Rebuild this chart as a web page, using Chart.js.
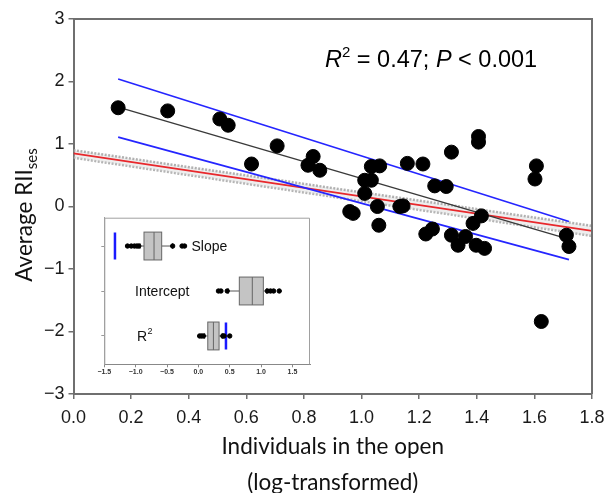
<!DOCTYPE html>
<html><head><meta charset="utf-8">
<script src="https://cdn.jsdelivr.net/npm/chart.js@4/dist/chart.umd.min.js"></script>
<style>
html,body{margin:0;padding:0;background:#fff;}
#wrap{position:relative;width:606px;height:493px;overflow:hidden;}
#main{position:absolute;left:0;top:0;}
#inset{position:absolute;left:90px;top:205px;}
</style></head><body>
<div id="wrap">
<canvas id="main" width="606" height="493"></canvas>
<canvas id="inset" width="235" height="180"></canvas>
</div>
<script>
// ---------- main scatter data ----------
const pointsX = [0.155,0.327,0.508,0.537,0.707,0.618,0.832,0.814,0.855,1.034,1.063,1.011,1.034,1.011,0.959,0.971,1.055,1.060,1.133,1.144,1.159,1.213,1.254,1.294,1.312,1.406,1.406,1.223,1.246,1.312,1.335,1.361,1.398,1.427,1.387,1.416,1.607,1.602,1.711,1.720,1.624];
const pointsY = [1.58,1.53,1.40,1.30,0.97,0.68,0.80,0.66,0.58,0.64,0.65,0.42,0.42,0.21,-0.08,-0.11,0.00,-0.30,0.00,0.01,0.69,0.68,0.33,0.32,0.87,1.12,1.03,-0.44,-0.36,-0.46,-0.62,-0.48,-0.62,-0.67,-0.27,-0.15,0.65,0.44,-0.46,-0.64,-1.84];

// regression line and its confidence band (blue)
const fitX = [0.155, 1.71];
const fitY = [1.59, -0.51];
const ciX = [0.155, 1.72];
const ciUpperY = [2.04, -0.24];
const ciLowerY = [1.11, -0.85];

// null-model line (red) with grey band
const nullX = [0, 1.8];
const nullY = [0.85, -0.39];
const nullUpperY = [0.90, -0.31];
const nullLowerY = [0.78, -0.47];

const xTicks = [0,0.2,0.4,0.6,0.8,1.0,1.2,1.4,1.6,1.8];
const yTicks = [-3,-2,-1,0,1,2,3];

// ---------- inset (randomisation results) ----------
const insetRows = ['Slope','Intercept','R²'];
const boxQ1 = [-0.867, 0.653, 0.15];
const boxMedian = [-0.707, 0.86, 0.24];
const boxQ3 = [-0.585, 1.036, 0.33];
const whiskerLow = [-0.93, 0.475, 0.10];
const whiskerHigh = [-0.41, 1.09, 0.38];
const outliersSlope = [-1.13,-1.07,-1.02,-0.98,-0.95,-0.41,-0.26,-0.22];
const outliersIntercept = [0.32,0.36,0.46,1.10,1.15,1.20,1.29];
const outliersR2 = [0.02,0.05,0.08,0.39,0.41,0.50];
const observedValues = [-1.33, 1.79, 0.44];
const insetXTicks = [-1.5,-1.0,-0.5,0.0,0.5,1.0,1.5];

const pairs = (xs, ys) => xs.map((x,i)=>({x:x, y:ys[i]}));
const minus = s => String(s).replace('-', '\u2212');

const framePlugin = {
  id:'frame',
  afterDraw(chart){
    const {ctx, chartArea:a} = chart;
    ctx.save();
    ctx.strokeStyle = '#6f6f6f';
    ctx.lineWidth = 2;
    ctx.beginPath();
    ctx.moveTo(a.left, a.top); ctx.lineTo(a.right, a.top); ctx.lineTo(a.right, a.bottom);
    ctx.stroke();
    ctx.restore();
  }
};

const textPlugin = {
  id:'texts',
  afterDraw(chart){
    const {ctx, chartArea:a} = chart;
    ctx.save();
    ctx.fillStyle = '#111';
    // x-axis title
    ctx.font = '22.5px Lato';
    ctx.textAlign = 'center';
    ctx.textBaseline = 'middle';
    const cx = (a.left + a.right)/2;
    ctx.fillText('Individuals in the open', cx, 447);
    ctx.fillText('(log-transformed)', cx, 483);
    // y-axis title with subscript
    ctx.translate(32, 215);
    ctx.rotate(-Math.PI/2);
    ctx.textAlign = 'left';
    ctx.textBaseline = 'alphabetic';
    const main = 'Average RII';
    ctx.font = '22.5px Lato';
    const w1 = ctx.measureText(main).width;
    ctx.font = '15px Lato';
    const w2 = ctx.measureText('ses').width;
    const start = -(w1 + w2)/2;
    ctx.font = '22.5px Lato';
    ctx.fillText(main, start, 0);
    ctx.font = '15px Lato';
    ctx.fillText('ses', start + w1, 5);
    ctx.restore();

    // statistics annotation
    ctx.save();
    ctx.fillStyle = '#000';
    ctx.textBaseline = 'alphabetic';
    let x = 325; const y = 67;
    const seg = (t, f, dy) => { ctx.font = f; ctx.fillText(t, x, y + (dy||0)); x += ctx.measureText(t).width; };
    seg('R', 'italic 23.5px "Liberation Sans"');
    seg('2', '15px "Liberation Sans"', -10);
    seg(' = 0.47; ', '23.5px "Liberation Sans"');
    seg('P', 'italic 23.5px "Liberation Sans"');
    seg(' < 0.001', '23.5px "Liberation Sans"');
    ctx.restore();
  }
};

new Chart(document.getElementById('main'), {
  type:'scatter',
  data:{datasets:[
    {data: pairs(pointsX, pointsY), backgroundColor:'#000', borderColor:'#000', pointRadius:7, pointHoverRadius:7, order:0},
    {type:'line', data: pairs(fitX, fitY), borderColor:'#3a3a3a', borderWidth:1.4, pointRadius:0, fill:false, order:1},
    {type:'line', data: pairs(ciX, ciUpperY), borderColor:'#2525ff', borderWidth:1.6, pointRadius:0, fill:false, order:2},
    {type:'line', data: pairs(ciX, ciLowerY), borderColor:'#2525ff', borderWidth:1.6, pointRadius:0, fill:false, order:3},
    {type:'line', data: pairs(nullX, nullY), borderColor:'#e8282c', borderWidth:1.8, pointRadius:0, fill:false, order:4},
    {type:'line', data: pairs(nullX, nullUpperY), borderColor:'rgba(165,165,165,0.85)', borderWidth:2.5, borderDash:[2,1.5], pointRadius:0, fill:'+1', backgroundColor:'rgba(205,205,205,0.35)', order:5},
    {type:'line', data: pairs(nullX, nullLowerY), borderColor:'rgba(165,165,165,0.85)', borderWidth:2.5, borderDash:[2,1.5], pointRadius:0, fill:false, order:6}
  ]},
  options:{
    responsive:false, animation:false, devicePixelRatio:1,
    layout:{padding:{left:0, top:19, right:14, bottom:0}},
    plugins:{legend:{display:false}, tooltip:{enabled:false}},
    scales:{
      x:{type:'linear', min:0, max:1.8,
        afterBuildTicks: s => { s.ticks = xTicks.map(v=>({value:v})); },
        afterFit: s => { s.height = 99; s.paddingRight = 0; s.paddingLeft = 0; },
        grid:{drawOnChartArea:false, tickLength:5, color:'#6f6f6f', lineWidth:1.5},
        border:{color:'#6f6f6f', width:2},
        ticks:{font:{family:'"Liberation Sans", Arial', size:18}, color:'#1a1a1a', padding:8, maxRotation:0, callback: v => Number(v).toFixed(1)}
      },
      y:{type:'linear', min:-3, max:3,
        afterBuildTicks: s => { s.ticks = yTicks.map(v=>({value:v})); },
        afterFit: s => { s.width = 73.5; },
        grid:{drawOnChartArea:false, tickLength:5, color:'#6f6f6f', lineWidth:1.5},
        border:{color:'#6f6f6f', width:2},
        ticks:{font:{family:'"Liberation Sans", Arial', size:18}, color:'#1a1a1a', padding:4, callback: v => minus(v)}
      }
    }
  },
  plugins:[framePlugin, textPlugin]
});

// ---------- inset ----------
const outlierData = [];
[outliersSlope, outliersIntercept, outliersR2].forEach((arr, r) => arr.forEach(v => outlierData.push({x:v, y:r})));

const insetPlugin = {
  id:'insetBoxes',
  beforeDraw(chart){
    const {ctx, chartArea:a} = chart;
    ctx.save();
    ctx.fillStyle = '#fff';
    ctx.fillRect(a.left, a.top, a.right - a.left, a.bottom - a.top);
    ctx.restore();
  },
  beforeDatasetsDraw(chart){
    const {ctx, scales:{x, y}} = chart;
    ctx.save();
    const half = 0.31;
    for (let r = 0; r < insetRows.length; r++){
      const yc = y.getPixelForValue(r);
      const yt = y.getPixelForValue(r - half), yb = y.getPixelForValue(r + half);
      const x1 = x.getPixelForValue(boxQ1[r]), x3 = x.getPixelForValue(boxQ3[r]);
      const xm = x.getPixelForValue(boxMedian[r]);
      const wl = x.getPixelForValue(whiskerLow[r]), wh = x.getPixelForValue(whiskerHigh[r]);
      ctx.strokeStyle = '#555'; ctx.lineWidth = 1;
      ctx.beginPath(); ctx.moveTo(wl, yc); ctx.lineTo(x1, yc); ctx.moveTo(x3, yc); ctx.lineTo(wh, yc); ctx.stroke();
      ctx.beginPath(); ctx.moveTo(wl, yc-3); ctx.lineTo(wl, yc+3); ctx.moveTo(wh, yc-3); ctx.lineTo(wh, yc+3); ctx.stroke();
      ctx.fillStyle = '#c4c4c4';
      ctx.fillRect(x1, yt, x3 - x1, yb - yt);
      ctx.strokeStyle = '#666';
      ctx.strokeRect(x1, yt, x3 - x1, yb - yt);
      ctx.beginPath(); ctx.moveTo(xm, yt); ctx.lineTo(xm, yb); ctx.stroke();
    }
    ctx.restore();
  },
  afterDraw(chart){
    const {ctx, chartArea:a, scales:{x, y}} = chart;
    ctx.save();
    ctx.strokeStyle = '#a0a0a0'; ctx.lineWidth = 1;
    ctx.beginPath();
    ctx.moveTo(a.left + 0.5, a.bottom); ctx.lineTo(a.left + 0.5, a.top + 0.5);
    ctx.lineTo(a.right - 0.5, a.top + 0.5); ctx.lineTo(a.right - 0.5, a.bottom);
    ctx.stroke();
    const opts = chart.options.plugins.insetBoxes;
    ctx.fillStyle = '#111';
    ctx.textBaseline = 'middle';
    ctx.textAlign = 'left';
    for (let r = 0; r < insetRows.length; r++){
      const px = x.getPixelForValue(opts.labelAt[r]);
      const py = y.getPixelForValue(r);
      if (insetRows[r] === 'R²'){
        ctx.font = '14px "Liberation Sans", Arial';
        ctx.fillText('R', px, py + 1);
        const w = ctx.measureText('R').width;
        ctx.font = '9px "Liberation Sans", Arial';
        ctx.fillText('2', px + w + 0.5, py - 4);
      } else {
        ctx.font = '14px "Liberation Sans", Arial';
        ctx.fillText(insetRows[r], px, py + 1);
      }
    }
    ctx.restore();
  }
};

new Chart(document.getElementById('inset'), {
  type:'scatter',
  data:{datasets:[
    {data: outlierData, backgroundColor:'#000', borderColor:'#000', pointRadius:2.2, pointHoverRadius:2.2, order:0},
    ...observedValues.map((v, r) => ({type:'line', data:[{x:v, y:r - 0.3}, {x:v, y:r + 0.3}], borderColor:'#1a1aff', borderWidth:2.5, pointRadius:0, fill:false, order:1}))
  ]},
  options:{
    responsive:false, animation:false, devicePixelRatio:1,
    layout:{padding:{left:0, top:12.7, right:15, bottom:0}},
    plugins:{legend:{display:false}, tooltip:{enabled:false}, insetBoxes:{labelAt:[-0.11, -1.01, -0.98]}},
    scales:{
      x:{type:'linear', min:-1.5, max:1.78,
        afterBuildTicks: s => { s.ticks = insetXTicks.map(v=>({value:v})); },
        afterFit: s => { s.height = 20.7; s.paddingRight = 0; s.paddingLeft = 0; },
        grid:{drawOnChartArea:false, tickLength:3, color:'#888'},
        border:{color:'#888', width:1},
        ticks:{font:{family:'"Liberation Sans", Arial', size:7, weight:'bold'}, color:'#333', padding:1, maxRotation:0, callback: v => minus(Number(v).toFixed(1))}
      },
      y:{type:'linear', min:-0.63, max:2.63, reverse:true,
        afterBuildTicks: s => { s.ticks = [0,1,2].map(v=>({value:v})); },
        afterFit: s => { s.width = 14.3; },
        grid:{drawOnChartArea:false, tickLength:3, color:'#999'},
        border:{color:'#a0a0a0', width:1},
        ticks:{callback: () => ''}
      }
    }
  },
  plugins:[insetPlugin]
});
</script>
</body></html>
